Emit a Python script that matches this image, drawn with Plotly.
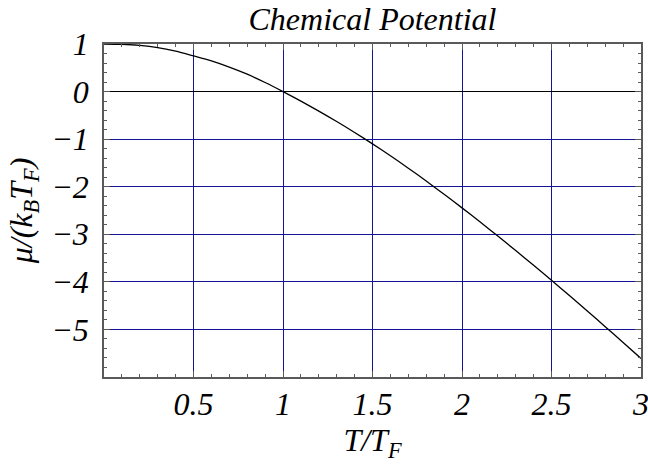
import plotly.graph_objects as go

# Data
t_over_tf = [0.0, 0.1, 0.2, 0.3, 0.4, 0.5, 0.6, 0.7, 0.8, 0.9, 1.0,
             1.1, 1.2, 1.3, 1.4, 1.5, 1.6, 1.7, 1.8, 1.9, 2.0,
             2.1, 2.2, 2.3, 2.4, 2.5, 2.6, 2.7, 2.8, 2.9, 3.0]
mu_over_ktf = [1.0, 0.993, 0.97, 0.925, 0.85, 0.75, 0.645, 0.515, 0.365, 0.19, 0.0,
               -0.2, -0.41, -0.63, -0.86, -1.1, -1.35, -1.61, -1.88, -2.16, -2.445,
               -2.737, -3.037, -3.342, -3.652, -3.967, -4.287, -4.612, -4.942, -5.275, -5.611]

x_ticks = [0.5, 1, 1.5, 2, 2.5, 3]
x_ticklabels = ["0.5", "1", "1.5", "2", "2.5", "3"]
y_ticks = [1, 0, -1, -2, -3, -4, -5]
y_ticklabels = ["1", "0", "\u22121", "\u22122", "\u22123", "\u22124", "\u22125"]

FONT = "Liberation Serif"
FS = 32
GRID = "rgb(20,20,150)"
FRAME = "rgb(90,90,90)"

fig = go.Figure()
fig.add_trace(go.Scatter(x=t_over_tf, y=mu_over_ktf, mode="lines",
                         line=dict(color="black", width=1.3, shape="spline", smoothing=0.8),
                         showlegend=False, hoverinfo="skip"))

fig.update_layout(
    width=648, height=465,
    paper_bgcolor="white", plot_bgcolor="white",
    margin=dict(l=104, r=7, t=44, b=88, autoexpand=False),
    font=dict(family=FONT, size=FS, color="black", style="italic"),
    title=dict(text="Chemical Potential", x=0.5, xref="paper", xanchor="center",
               y=0.96, yref="container", yanchor="middle",
               font=dict(family=FONT, size=FS, style="italic")),
)

fig.update_xaxes(
    range=[0, 3], tickvals=x_ticks, ticktext=x_ticklabels,
    showgrid=True, gridcolor=GRID, gridwidth=1,
    zeroline=False, automargin=False, ticklabeloverflow="allow",
    showline=True, linecolor=FRAME, linewidth=1.5, mirror="ticks",
    ticks="inside", ticklen=6, tickcolor=FRAME, tickwidth=1,
    ticklabelstandoff=-2,
    minor=dict(dtick=0.1, tick0=0, ticks="inside", ticklen=3, tickcolor=FRAME, showgrid=False),
    tickfont=dict(family=FONT, size=FS, style="italic"),
    title=dict(text="T/T<sub>F</sub>", standoff=0,
               font=dict(family=FONT, size=FS, style="italic")),
)
fig.update_yaxes(
    range=[-6, 1], tickvals=y_ticks, ticktext=y_ticklabels,
    showgrid=True, gridcolor=GRID, gridwidth=1,
    zeroline=True, zerolinecolor="black", zerolinewidth=1,
    automargin=False, ticklabeloverflow="allow",
    showline=True, linecolor=FRAME, linewidth=1.5, mirror="ticks",
    ticks="inside", ticklen=6, tickcolor=FRAME, tickwidth=1,
    ticklabelstandoff=7,
    minor=dict(dtick=0.2, tick0=0, ticks="inside", ticklen=3, tickcolor=FRAME, showgrid=False),
    tickfont=dict(family=FONT, size=FS, style="italic"),
    title=dict(text="\u03bc/(k<sub>B</sub>T<sub>F</sub>)", standoff=9,
               font=dict(family=FONT, size=FS, style="italic")),
)

fig.write_html("out.html", config={"displayModeBar": False},
               post_script="document.body.style.margin='0';")
